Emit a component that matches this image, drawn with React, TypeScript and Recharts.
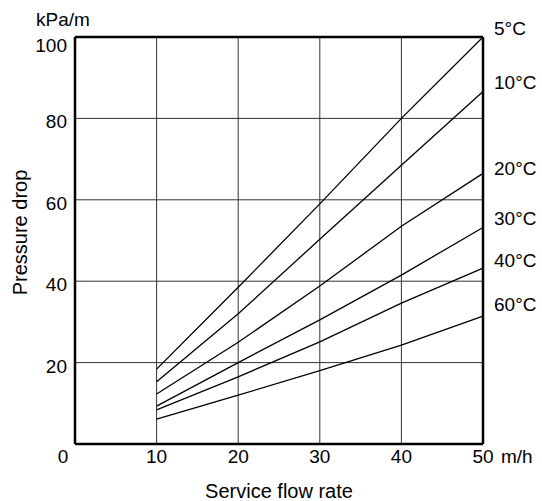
import { LineChart, Line, XAxis, YAxis, CartesianGrid, ReferenceLine, Label, LabelList } from 'recharts'

const flow = [10, 20, 30, 40, 50]
const temps = ['5°C', '10°C', '20°C', '30°C', '40°C', '60°C']
const drop5 = [18.4, 38.5, 59, 80, 100]
const drop10 = [15.3, 32, 50.3, 68.5, 86.6]
const drop20 = [12.3, 25, 38.8, 53.5, 66.5]
const drop30 = [9.3, 20, 30.5, 41.5, 53.2]
const drop40 = [8.4, 16.5, 25.1, 34.6, 43.2]
const drop60 = [6.1, 12, 18, 24.3, 31.4]
const xTicks = [0, 10, 20, 30, 40, 50]
const yTicks = [0, 20, 40, 60, 80, 100]

const series = [drop5, drop10, drop20, drop30, drop40, drop60]
const data = flow.map((f, i) => {
  const row: Record<string, number> = { flow: f }
  series.forEach((s, k) => { row['t' + k] = s[i] })
  return row
})

// nudge of each temperature label relative to the end of its line
const labelDy = [-9, -10, -5, -9, -8, -12]

const font = '"Liberation Sans", Arial, sans-serif'
const fs = 19

function XTick(props: any) {
  const { x, y, payload } = props
  const dx = payload.value === 0 ? -12 : 0
  return (
    <text x={x + dx} y={y + 11} textAnchor="middle" fontSize={fs} fontFamily={font} fill="#000">{payload.value}</text>
  )
}

function YTick(props: any) {
  const { x, y, payload } = props
  if (payload.value === 0) return null
  const dy = payload.value === 100 ? 15 : 10
  return (
    <text x={x} y={y + dy} textAnchor="end" fontSize={fs} fontFamily={font} fill="#000">{payload.value}</text>
  )
}

function endLabel(k: number) {
  return (props: any) => {
    const { x, y, index } = props
    if (index !== flow.length - 1) return null
    return (
      <text x={x + 11} y={y + labelDy[k] + 7} fontSize={fs} fontFamily={font} fill="#000">{temps[k]}</text>
    )
  }
}

export default function App() {
  return (
    <div style={{ position: 'absolute', left: 0, top: 0, background: '#fff' }}>
      <LineChart width={542} height={501} data={data} margin={{ top: 37, right: 59, left: 35, bottom: 27 }}>
        <CartesianGrid stroke="#333" strokeWidth={1} />
        <XAxis dataKey="flow" type="number" domain={[0, 50]} ticks={xTicks} interval={0}
          tick={<XTick />} tickLine={false} axisLine={{ stroke: '#000', strokeWidth: 2.5 }} height={30}>
          <Label content={(p: any) => {
            const vb = p.viewBox
            return <text x={vb.x + vb.width + 18} y={vb.y + 19} fontSize={fs} fontFamily={font} fill="#000">m/h</text>
          }} />
          <Label content={(p: any) => {
            const vb = p.viewBox
            return <text x={vb.x + vb.width / 2} y={vb.y + vb.height + 24} textAnchor="middle" fontSize={20} fontFamily={font} fill="#000">Service flow rate</text>
          }} />
        </XAxis>
        <YAxis type="number" domain={[0, 100]} ticks={yTicks} interval={0} width={40}
          tick={<YTick />} tickLine={false} axisLine={{ stroke: '#000', strokeWidth: 2.5 }}>
          <Label content={(p: any) => {
            const vb = p.viewBox
            return <text x={vb.x + 28} y={vb.y - 11} textAnchor="middle" fontSize={fs} fontFamily={font} fill="#000">kPa/m</text>
          }} />
          <Label content={(p: any) => {
            const vb = p.viewBox
            const cx = vb.x - 15
            const cy = vb.y + vb.height / 2 - 8
            return <text x={cx} y={cy} transform={`rotate(-90 ${cx} ${cy})`} textAnchor="middle" dominantBaseline="central" fontSize={20} fontFamily={font} fill="#000">Pressure drop</text>
          }} />
        </YAxis>
        <ReferenceLine y={100} stroke="#000" strokeWidth={2.5} />
        <ReferenceLine x={50} stroke="#000" strokeWidth={2.5} />
        {series.map((_, k) => (
          <Line key={k} type="linear" dataKey={'t' + k} stroke="#000" strokeWidth={1.3} dot={false} isAnimationActive={false}>
            <LabelList dataKey={'t' + k} content={endLabel(k)} />
          </Line>
        ))}
      </LineChart>
    </div>
  )
}
